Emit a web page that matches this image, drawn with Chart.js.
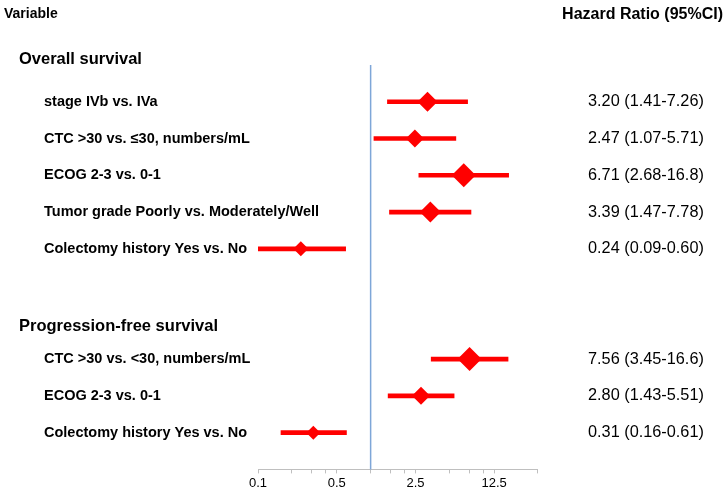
<!DOCTYPE html>
<html>
<head>
<meta charset="utf-8">
<script src="https://cdn.jsdelivr.net/npm/chart.js@4.4.1/dist/chart.umd.min.js"></script>
<style>
  html, body { margin: 0; padding: 0; background: #fff; }
</style>
</head>
<body>
<canvas id="forest" width="727" height="493"></canvas>
<script>
const groups = ['Overall survival', 'Progression-free survival'];
const variables = [
  'stage IVb vs. IVa',
  'CTC >30 vs. ≤30, numbers/mL',
  'ECOG 2-3 vs. 0-1',
  'Tumor grade Poorly vs. Moderately/Well',
  'Colectomy history Yes vs. No',
  'CTC >30 vs. <30, numbers/mL',
  'ECOG 2-3 vs. 0-1',
  'Colectomy history Yes vs. No'
];
const variableGroup = [0, 0, 0, 0, 0, 1, 1, 1];
const hazardRatio = [3.20, 2.47, 6.71, 3.39, 0.24, 7.56, 2.80, 0.31];
const ciLower = [1.41, 1.07, 2.68, 1.47, 0.09, 3.45, 1.43, 0.16];
const ciUpper = [7.26, 5.71, 16.8, 7.78, 0.60, 16.6, 5.51, 0.61];
const axisTicks = [0.1, 0.5, 2.5, 12.5];
const minorTicks = [0.2, 0.3, 0.4, 1, 1.5, 2, 5, 7.5, 10];

const FONT = '"Liberation Sans", Arial, sans-serif';
const RED = '#ff0000';

// row slot on the y scale: items of the second group sit after a gap
const rowOf = (i) => i + 1 + variableGroup[i] * 2;
const fmt = (v) => (v >= 10 ? v.toFixed(1) : v.toFixed(2));
// diamond half-size
const diamondSize = [10, 9, 12, 10.5, 7.5, 12, 9, 7];

const forestText = {
  id: 'forestText',
  beforeDatasetsDraw(chart) {
    const { ctx, chartArea, scales } = chart;
    const x1 = scales.x.getPixelForValue(1);
    ctx.save();
    ctx.strokeStyle = '#7ea6d8';
    ctx.lineWidth = 1.5;
    ctx.beginPath();
    ctx.moveTo(x1, chartArea.top);
    ctx.lineTo(x1, chartArea.bottom);
    ctx.stroke();
    ctx.restore();
  },
  afterDraw(chart) {
    const { ctx, scales } = chart;
    const y = scales.y;
    ctx.save();
    ctx.fillStyle = '#000';
    ctx.textBaseline = 'middle';

    ctx.font = 'bold 14px ' + FONT;
    ctx.textAlign = 'left';
    ctx.fillText('Variable', 4, 14);
    ctx.font = 'bold 16px ' + FONT;
    ctx.textAlign = 'right';
    ctx.fillText('Hazard Ratio (95%CI)', 723, 15);

    // group headings
    ctx.textAlign = 'left';
    ctx.font = 'bold 16.5px ' + FONT;
    ctx.fillText(groups[0], 19, y.getPixelForValue(-0.14));
    ctx.fillText(groups[1], 19, y.getPixelForValue(7.12));

    variables.forEach((name, i) => {
      const py = y.getPixelForValue(rowOf(i));
      ctx.font = 'bold 14.5px ' + FONT;
      ctx.fillText(name, 44, py);
      ctx.font = '16.3px ' + FONT;
      ctx.fillText(fmt(hazardRatio[i]) + ' (' + fmt(ciLower[i]) + '-' + fmt(ciUpper[i]) + ')', 588, py);
    });
    ctx.restore();
  }
};

new Chart(document.getElementById('forest'), {
  type: 'bar',
  data: {
    datasets: [
      {
        type: 'scatter',
        data: variables.map((v, i) => ({ x: hazardRatio[i], y: rowOf(i) })),
        pointStyle: 'rectRot',
        pointRadius: diamondSize,
        pointHoverRadius: diamondSize,
        backgroundColor: RED,
        borderWidth: 0,
        order: 0
      },
      {
        type: 'bar',
        data: variables.map((v, i) => ({ x: [ciLower[i], ciUpper[i]], y: rowOf(i) })),
        backgroundColor: RED,
        borderWidth: 0,
        barThickness: 4,
        order: 1
      }
    ]
  },
  options: {
    responsive: false,
    animation: false,
    indexAxis: 'y',
    layout: { padding: { left: 258, right: 190, top: 65, bottom: 0 } },
    plugins: { legend: { display: false }, tooltip: { enabled: false } },
    scales: {
      x: {
        type: 'logarithmic',
        min: 0.1,
        max: 30,
        afterBuildTicks: (scale) => {
          scale.ticks = [...axisTicks, ...minorTicks, 30]
            .sort((a, b) => a - b)
            .map((v) => ({ value: v }));
        },
        ticks: {
          autoSkip: false,
          maxRotation: 0,
          padding: 2,
          color: '#000',
          font: { family: FONT, size: 13 },
          callback: (v) => (axisTicks.includes(v) ? String(v) : '')
        },
        grid: { drawOnChartArea: false, tickLength: 4, color: '#bfbfbf' },
        border: { color: '#bfbfbf' }
      },
      y: {
        type: 'linear',
        min: 0,
        max: 11,
        reverse: true,
        offset: false,
        display: false
      }
    }
  },
  plugins: [forestText]
});
</script>
</body>
</html>
